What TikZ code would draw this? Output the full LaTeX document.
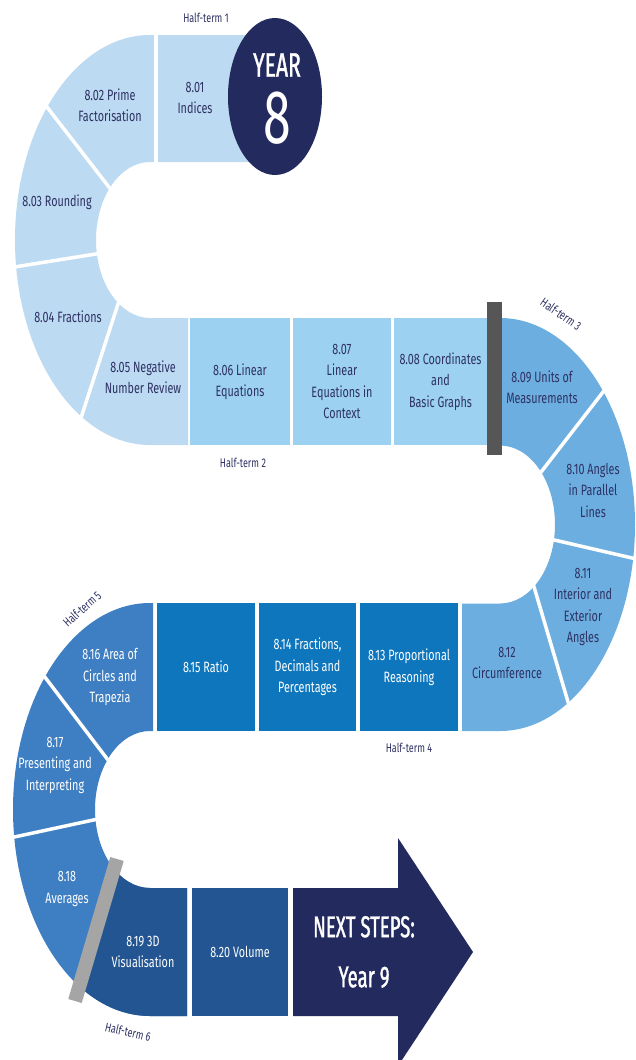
\documentclass[tikz,border=0pt]{standalone}
\usepackage{fontspec}
\setmainfont{Fira Sans}[FakeStretch=0.72]
\newfontfamily\bigf{Fira Sans}[FakeStretch=0.62,FakeBold=1.2]
\newfontfamily\digf{Fira Sans}[FakeStretch=0.66]
\definecolor{cA}{HTML}{BCDAF2}
\definecolor{cB}{HTML}{9CD1F1}
\definecolor{cC}{HTML}{6DAEE0}
\definecolor{cD}{HTML}{0E76BC}
\definecolor{cE}{HTML}{3E7EC2}
\definecolor{cF}{HTML}{235592}
\definecolor{navy}{HTML}{232A5E}
\definecolor{txt}{HTML}{2E3163}
\definecolor{barA}{HTML}{565656}
\definecolor{barB}{HTML}{A5A5A5}
\tikzset{
  lbl/.style={align=center, text=txt, font=\fontsize{15}{21.5}\selectfont, inner sep=0pt},
  wlbl/.style={lbl, text=white},
  box/.style={minimum height=127.5pt, inner sep=0pt, align=center, font=\fontsize{15}{21.5}\selectfont},
  ht/.style={text=txt, font=\fontsize{12.5}{14}\selectfont, inner sep=0pt},
  sep/.style={white, line width=3.5pt},
}
\begin{document}
\begin{tikzpicture}[x=1pt,y=1pt]
\useasboundingbox (0,0) rectangle (636,-1060);
\clip (0,0) rectangle (636,-1060);
\fill[white] (0,0) rectangle (636,-1060);

% ---- top-left U (8.01 - 8.05)
\fill[cA] (260,-35) -- (150,-35) arc[start angle=90,end angle=270,x radius=135,y radius=205]
  -- (188,-445) -- (188,-318) -- (150,-318)
  arc[start angle=270,end angle=90,x radius=54,y radius=78] -- (260,-162) -- cycle;
\draw[sep] (156,-30) -- (156,-167);
\draw[sep] (40,-98) -- (112,-191);
\draw[sep] (8,-268) -- (102,-253);
\draw[sep] (79,-424) -- (120,-298);

% ---- YEAR 8 circle
\fill[navy] (275,-96.5) ellipse [x radius=47, y radius=78.5];

% ---- middle row boxes
\node[box, fill=cB, minimum width=100pt, text=txt] (b806) at (240,-381.5) {8.06 Linear\\Equations};
\node[box, fill=cB, minimum width=98pt, text=txt] (b807) at (342,-381.5) {8.07\\Linear\\Equations in\\Context};
\node[box, fill=cB, minimum width=93pt, text=txt] (b808) at (440.5,-381.5) {8.08 Coordinates\\and\\Basic Graphs};

% ---- right U (8.09 - 8.12)
\fill[cC] (487,-318) -- (500,-318) arc[start angle=90,end angle=-90,x radius=135,y radius=206.5]
  -- (462,-731) -- (462,-603.5) -- (500,-603.5)
  arc[start angle=-90,end angle=90,x radius=55,y radius=79] -- (487,-445.5) -- cycle;
\draw[sep] (610,-383) -- (538,-476);
\draw[sep] (550,-539) -- (645,-561);
\draw[sep] (532,-580) -- (571,-712);
\fill[barA] (487,-302) rectangle (502,-455);

% ---- bottom row boxes
\node[box, fill=cD, minimum width=98pt, text=white] (b813) at (409,-667) {8.13 Proportional\\Reasoning};
\node[box, fill=cD, minimum width=97pt, text=white] (b814) at (307.5,-667) {8.14 Fractions,\\Decimals and\\Percentages};
\node[box, fill=cD, minimum width=98pt, text=white] (b815) at (206,-667) {8.15 Ratio};

% ---- bottom-left U (8.16 - 8.19)
\fill[cE] (153,-603) -- (150,-603) arc[start angle=90,end angle=270,x radius=137,y radius=206.5]
  -- (187,-1016) -- (187,-888) -- (150,-888)
  arc[start angle=270,end angle=90,x radius=55,y radius=78.5] -- (153,-731) -- cycle;
\begin{scope}
\clip (129.6,-816.4) -- (62.4,-1043.6) -- (250,-1043.6) -- (250,-816.4) -- cycle;
\fill[cF] (153,-603) -- (150,-603) arc[start angle=90,end angle=270,x radius=137,y radius=206.5]
  -- (187,-1016) -- (187,-888) -- (150,-888)
  arc[start angle=270,end angle=90,x radius=55,y radius=78.5] -- (153,-731) -- cycle;
\end{scope}
\draw[sep] (38,-668) -- (108,-760);
\draw[sep] (5,-839) -- (98,-819);
\draw[barB, line width=14pt] (117,-859) -- (75,-1001);

\node[box, fill=cF, minimum width=96pt, text=white] (b820) at (240,-952) {8.20 Volume};

% ---- arrow
\fill[navy] (293,-888) -- (398,-888) -- (398,-838) -- (473,-952) -- (398,-1066)
  -- (398,-1016) -- (293,-1016) -- cycle;
\node[align=center, text=white, inner sep=0pt, font=\bigf\fontsize{30}{50}\selectfont] (next) at (364,-952) {NEXT STEPS:\\Year 9};

% ---- labels
\node[lbl] (t801) at (195,-98) {8.01\\Indices};
\node[text=white, inner sep=0pt, font=\bigf\fontsize{34}{34}\selectfont] (year) at (277,-65) {YEAR};
\node[text=white, inner sep=0pt, font=\digf\fontsize{76}{76}\selectfont] (eight) at (277,-118) {8};
\node[lbl] (t802) at (110,-105) {8.02 Prime\\Factorisation};
\node[lbl] (t803) at (57,-202) {8.03 Rounding};
\node[lbl] (t804) at (68,-317) {8.04 Fractions};
\node[lbl] (t805) at (143,-377) {8.05 Negative\\Number Review};
\node[lbl] (t809) at (542,-387) {8.09 Units of\\Measurements};
\node[lbl] (t810) at (593,-490) {8.10 Angles\\in Parallel\\Lines};
\node[lbl] (t811) at (583,-607) {8.11\\Interior and\\Exterior\\Angles};
\node[lbl] (t812) at (507,-663) {8.12\\Circumference};
\node[wlbl] (t816) at (110,-677) {8.16 Area of\\Circles and\\Trapezia};
\node[wlbl] (t817) at (55,-765) {8.17\\Presenting and\\Interpreting};
\node[wlbl] (t818) at (67,-889) {8.18\\Averages};
\node[wlbl] (t819) at (143,-952) {8.19 3D\\Visualisation};

% ---- half-term labels
\node[ht] (h1) at (206,-18) {Half-term 1};
\node[ht] (h2) at (243,-463) {Half-term 2};
\node[ht, rotate=-35] (h3) at (561,-314) {Half-term 3};
\node[ht] (h4) at (409,-748) {Half-term 4};
\node[ht, rotate=42] (h5) at (82,-609) {Half-term 5};
\node[ht, rotate=-13] (h6) at (128,-1032) {Half-term 6};
\end{tikzpicture}
\end{document}
